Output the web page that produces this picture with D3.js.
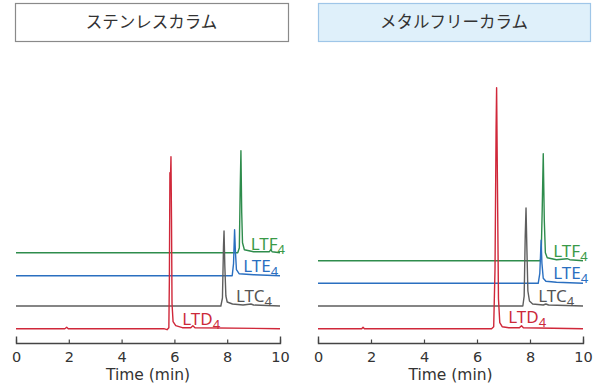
<!DOCTYPE html>
<html><head><meta charset="utf-8">
<script src="https://cdn.jsdelivr.net/npm/d3@7/dist/d3.min.js"></script>
<style>body{margin:0;background:#fff}svg{display:block}</style>
</head><body>
<svg id="c" width="596" height="387"></svg>
<script>
// ---- data ----
const panelTitles = ["ステンレスカラム", "メタルフリーカラム"];
const xTicks = [0, 2, 4, 6, 8, 10];
const xLabel = "Time (min)";
const seriesNames = ["LTD", "LTC", "LTE", "LTF"];
const seriesColors = ["#d0283a", "#5e5e5e", "#2a6fc0", "#2e8c4c"];
const labelColors = ["#cc2a3a", "#555555", "#2a6fc0", "#3a9a48"];
// baseline offsets (intensity units) per series, per panel
const offsetsStainless = [14.3, 37, 67.3, 90.3];
const offsetsMetalFree = [14.3, 37, 59.7, 82.3];
// traces [time(min), intensity above baseline]
const ltdStainless = [[0,0],[1.85,0],[1.92,1.5],[1.98,0],[5.6,0],[5.72,-1],[5.79,1],[5.81,50],[5.83,156],[5.85,148],[5.87,172],[5.89,110],[5.91,25],[5.95,7],[6.05,3],[6.3,1],[6.62,1],[6.7,3],[6.78,1],[10,0]];
const ltcStainless = [[0,0],[7.76,0],[7.82,8],[7.86,60],[7.88,75],[7.91,40],[7.95,10],[8.0,4],[8.2,2],[8.6,1],[8.9,2],[9.0,1],[10,0]];
const lteStainless = [[0,0],[8.19,0],[8.24,12],[8.28,46],[8.31,25],[8.35,6],[8.45,2],[9.0,1],[10,0]];
const ltfStainless = [[0,0],[8.4,0],[8.46,5],[8.49,60],[8.52,102],[8.55,40],[8.58,10],[8.65,3],[9.0,1],[9.6,1],[9.65,3],[9.7,1],[10,0]];
const ltdMetalFree = [[0,0],[1.65,0],[1.7,1.5],[1.75,0],[6.55,0],[6.63,2],[6.68,60],[6.72,200],[6.74,241],[6.77,150],[6.81,30],[6.86,6],[6.95,2],[7.2,1],[7.6,1],[7.68,3],[7.75,1],[10,0]];
const ltcMetalFree = [[0,0],[7.73,0],[7.78,10],[7.82,70],[7.85,98],[7.88,60],[7.92,15],[7.98,5],[8.1,2],[8.5,1],[8.6,2],[8.7,1],[10,0]];
const lteMetalFree = [[0,0],[8.31,0],[8.37,10],[8.42,43],[8.45,20],[8.5,5],[8.6,2],[9.0,1],[10,0]];
const ltfMetalFree = [[0,0],[8.38,0],[8.42,3],[8.46,50],[8.5,107],[8.54,40],[8.58,8],[8.65,3],[9.0,1],[9.4,2],[9.5,1],[10,0]];

// ---- layout ----
const svg = d3.select("#c");
const panels = [
  {title: panelTitles[0], x0: 16, x1: 280, box: [15, 3, 273, 38], fill: "#ffffff", stroke: "#8a8a8a",
   offsets: offsetsStainless, traces: [ltdStainless, ltcStainless, lteStainless, ltfStainless],
   labels: [[182.3, 325], [236, 301.7], [243.3, 271.7], [250.7, 250]]},
  {title: panelTitles[1], x0: 318, x1: 583, box: [318, 3, 272, 38], fill: "#dff0fa", stroke: "#9fc6e8",
   offsets: offsetsMetalFree, traces: [ltdMetalFree, ltcMetalFree, lteMetalFree, ltfMetalFree],
   labels: [[508.3, 323.3], [538.3, 301.7], [553.3, 279.3], [553.3, 256.7]]}
];
const axisY = 343;
const y = d3.scaleLinear().domain([0, 260]).range([axisY, axisY - 260]);

panels.forEach(p => {
  const g = svg.append("g");
  g.append("rect").attr("x", p.box[0] + 0.5).attr("y", p.box[1] + 0.5)
    .attr("width", p.box[2]).attr("height", p.box[3])
    .attr("fill", p.fill).attr("stroke", p.stroke).attr("stroke-width", 1.2);
  g.append("text").attr("x", p.box[0] + p.box[2] / 2).attr("y", p.box[1] + p.box[3] / 2 + 6)
    .attr("text-anchor", "middle").attr("font-family", "'Noto Sans CJK JP'")
    .attr("font-size", 16.5).attr("fill", "#333").text(p.title);

  const x = d3.scaleLinear().domain([0, 10]).range([p.x0, p.x1]);
  const ax = g.append("g").attr("transform", `translate(0,${axisY})`)
    .call(d3.axisBottom(x).tickValues(xTicks).tickFormat(d3.format("d"))
      .tickSizeInner(-3.5).tickSizeOuter(-6.5).tickPadding(19));
  ax.select(".domain").attr("stroke", "#444").attr("stroke-width", 1.4);
  ax.selectAll(".tick line").attr("stroke", "#444").attr("stroke-width", 1.2);
  ax.selectAll(".tick text").attr("font-family", "'DejaVu Sans'").attr("font-size", 14.5)
    .attr("fill", "#333").attr("dy", "0");
  g.append("text").attr("x", (p.x0 + p.x1) / 2).attr("y", 380).attr("text-anchor", "middle")
    .attr("font-family", "'DejaVu Sans'").attr("font-size", 15.5).attr("fill", "#333").text(xLabel);

  // draw from top series down so that LTD is on top
  [3, 2, 1, 0].forEach(i => {
    const off = p.offsets[i];
    const line = d3.line().x(d => x(d[0])).y(d => y(d[1] + off));
    g.append("path").datum(p.traces[i]).attr("d", line).attr("fill", "none")
      .attr("stroke", seriesColors[i]).attr("stroke-width", 1.4).attr("stroke-linejoin", "round");
  });
  seriesNames.forEach((n, i) => {
    const t = g.append("text").attr("x", p.labels[i][0]).attr("y", p.labels[i][1])
      .attr("font-family", "'Noto Sans'").attr("font-size", 17).attr("fill", labelColors[i]);
    t.append("tspan").text(n);
    t.append("tspan").attr("font-size", 13).attr("dy", 4).text("4");
  });
});
</script>
</body></html>
